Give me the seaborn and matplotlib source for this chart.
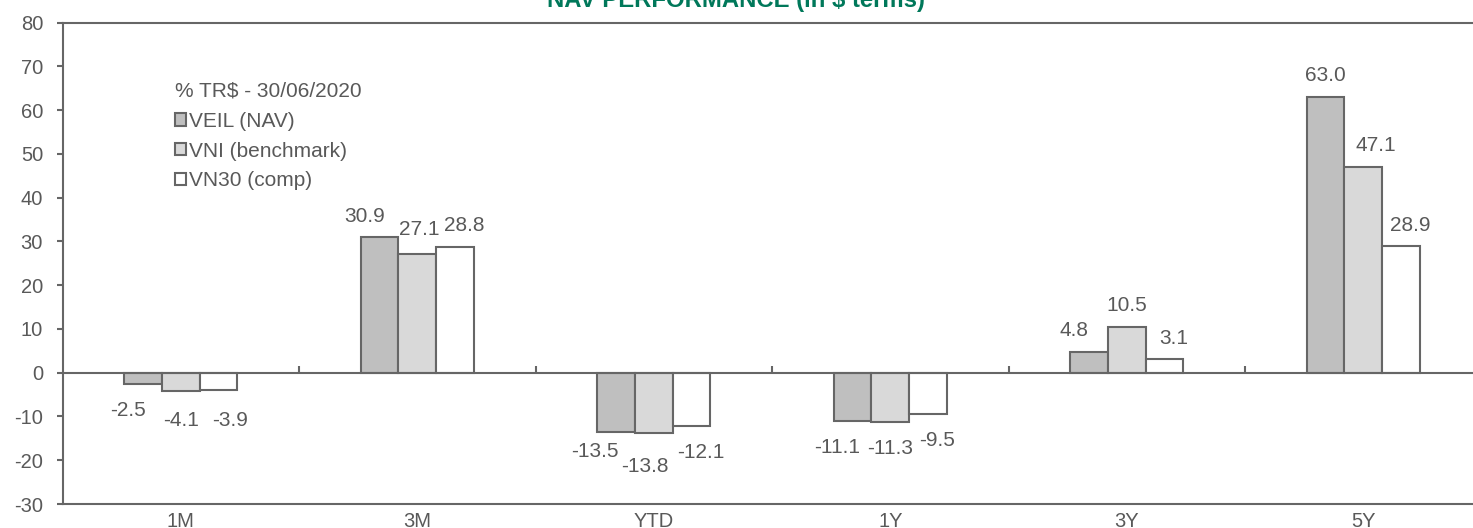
import numpy as np
import pandas as pd
import matplotlib
matplotlib.use("Agg")
import matplotlib.pyplot as plt
import seaborn as sns
from matplotlib.patches import Patch

# ---------------- data ----------------
periods = ["1M", "3M", "YTD", "1Y", "3Y", "5Y"]
series = ["VEIL (NAV)", "VNI (benchmark)", "VN30 (comp)"]
veil = [-2.5, 30.9, -13.5, -11.1, 4.8, 63.0]
vni = [-4.1, 27.1, -13.8, -11.3, 10.5, 47.1]
vn30 = [-3.9, 28.8, -12.1, -9.5, 3.1, 28.9]
yticks = list(range(-30, 81, 10))
title = "NAV PERFORMANCE (in $ terms)"
legend_title = "% TR$ - 30/06/2020"

df = pd.DataFrame({
    "period": periods * 3,
    "series": [series[0]] * 6 + [series[1]] * 6 + [series[2]] * 6,
    "value": veil + vni + vn30,
})

# ---------------- style ----------------
sns.set_style("white")
plt.rcParams["font.family"] = ["Liberation Sans", "DejaVu Sans"]
plt.rcParams["axes.unicode_minus"] = False
GRAY = "#666666"
TXT = "#595959"
fills = ["#bfbfbf", "#d9d9d9", "#ffffff"]
LW = 1.5
FS = 15

W, H = 1473, 528
fig = plt.figure(figsize=(W / 100, H / 100), dpi=100)
ax = fig.add_axes([62.5 / W, 24 / H, 6 * 236.5 / W, (504 - 22.5) / H])

sns.barplot(data=df, x="period", y="value", hue="series", order=periods,
            hue_order=series, palette=fills, saturation=1, width=0.478,
            edgecolor=GRAY, linewidth=LW, legend=False, ax=ax, zorder=2)

ax.set_xlim(-0.5, 5.5)
ax.set_ylim(-30, 80)
ax.set_yticks(yticks)
ax.set_yticklabels([str(t) for t in yticks])
ax.set_xlabel("")
ax.set_ylabel("")
for s in ["left", "top", "bottom"]:
    ax.spines[s].set_color(GRAY)
    ax.spines[s].set_linewidth(LW)
ax.spines["right"].set_visible(False)
ax.tick_params(axis="y", left=True, length=4.5, width=LW, color=GRAY,
               labelcolor=TXT, labelsize=14.5, pad=9.5)
ax.tick_params(axis="x", bottom=False, length=0, labelcolor=TXT,
               labelsize=14.5, pad=5.5)

# zero line with category separators (twin axis)
tw = ax.twiny()
tw.set_xlim(ax.get_xlim())
tw.set_xticks(np.arange(0.5, 6, 1))
tw.xaxis.set_ticks_position("bottom")
tw.spines["bottom"].set_position(("data", 0))
tw.spines["bottom"].set_color(GRAY)
tw.spines["bottom"].set_linewidth(LW)
for s in ["top", "left", "right"]:
    tw.spines[s].set_visible(False)
tw.tick_params(axis="x", direction="in", length=4.8, width=LW, color=GRAY,
               labelbottom=False, labeltop=False, top=False)
tw.set_zorder(3)
tw.patch.set_visible(False)

# ---------------- data labels ----------------
values = [veil, vni, vn30]
series_dx = [-15, 0, 9]
nudge = {("YTD", 0): (-6, -7), ("YTD", 1): (-9, 7), ("3M", 1): (2, -4),
         ("5Y", 0): (15, 0), ("5Y", 1): (13, 0), ("1M", 1): (0, 3),
         ("1M", 2): (3, 4)}
for si, cont in enumerate(ax.containers):
    for pi, bar in enumerate(cont):
        v = values[si][pi]
        x = bar.get_x() + bar.get_width() / 2
        ndx, ndy = nudge.get((periods[pi], si), (0, 0))
        if v >= 0:
            off = (series_dx[si] + ndx, 15.5 - ndy)
        else:
            off = (series_dx[si] + ndx, -(17.5 + 14.5 + ndy))
        ax.annotate(f"{v:.1f}", xy=(x, v), xytext=off,
                    textcoords="offset pixels", ha="center", va="baseline",
                    fontsize=FS, color=TXT, zorder=5)

# ---------------- legend ----------------
handles = [Patch(facecolor=c, edgecolor=GRAY, linewidth=LW) for c in fills]
leg = fig.legend(handles, series, title=legend_title, loc="upper left",
                 bbox_to_anchor=(175 / W, 1 - 82 / H), frameon=False,
                 fontsize=FS, title_fontsize=FS, handlelength=0.52,
                 handleheight=0.52, handletextpad=0.15, labelspacing=0.52,
                 borderpad=0, borderaxespad=0, alignment="left")
for t in leg.get_texts():
    t.set_color(TXT)
leg.get_title().set_color(TXT)

fig.text(736 / W, 1 - 7.5 / H, title, ha="center", va="baseline",
         fontsize=17.2, fontweight="bold", color="#00785A")

fig.savefig("out.png", dpi=100)
